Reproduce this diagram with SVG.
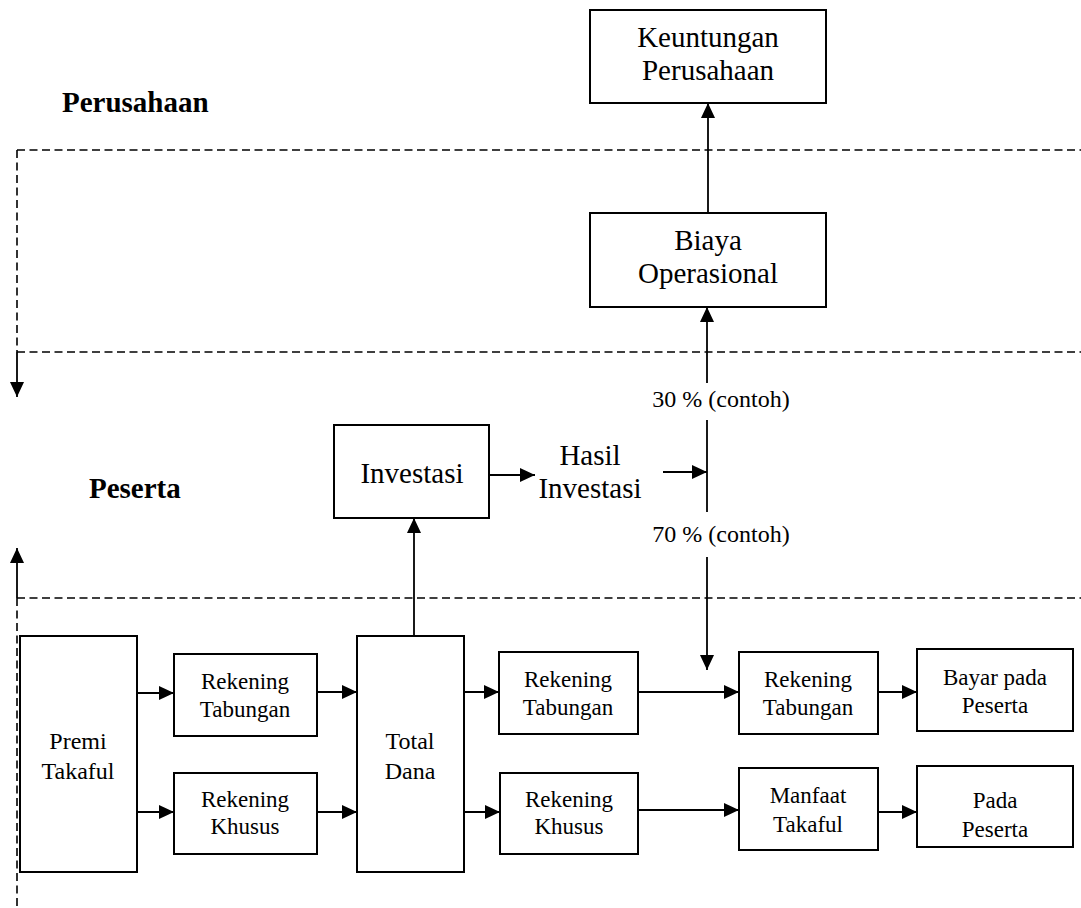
<svg xmlns="http://www.w3.org/2000/svg" width="1081" height="908" viewBox="0 0 1081 908">
<style>
.box{fill:#fff;stroke:#000;stroke-width:2}
.ln{fill:none;stroke:#000;stroke-width:1.8}
.dash{fill:none;stroke:#000;stroke-width:1.6;stroke-dasharray:8 4.5}
.t{font-family:"Liberation Serif","Times New Roman",serif;fill:#000;text-anchor:middle}
.s{font-size:23px}
.m{font-size:24px}
.l{font-size:29px}
.b{font-family:"Liberation Serif","Times New Roman",serif;font-weight:bold;font-size:29px;fill:#000}
</style>
<defs>
<marker id="ah" markerUnits="userSpaceOnUse" markerWidth="16" markerHeight="15" refX="15" refY="7" orient="auto">
<path d="M0,0 L15,7 L0,14 z" fill="#000"/>
</marker>
</defs>
<g id="regions">
<path class="dash" d="M17,150 H1081 M17,150 V352 M17,352 H1081 M17,598 H1081 M17,598 V908"/>
<text class="b" x="62" y="112">Perusahaan</text>
<text class="b" x="89" y="498">Peserta</text>
</g>
<g id="connectors">
<path class="ln" d="M17,352 V397" marker-end="url(#ah)"/>
<path class="ln" d="M17,598 V548" marker-end="url(#ah)"/>
<path class="ln" d="M708,213 V103" marker-end="url(#ah)"/>
<path class="ln" d="M707,383 V307" marker-end="url(#ah)"/>
<path class="ln" d="M707,420 V512"/>
<path class="ln" d="M663,472 H707" marker-end="url(#ah)"/>
<path class="ln" d="M707,557 V670" marker-end="url(#ah)"/>
<path class="ln" d="M489,475 H535" marker-end="url(#ah)"/>
<path class="ln" d="M414,636 V518" marker-end="url(#ah)"/>
<path class="ln" d="M137,693 H174" marker-end="url(#ah)"/>
<path class="ln" d="M317,692 H357" marker-end="url(#ah)"/>
<path class="ln" d="M464,692 H499" marker-end="url(#ah)"/>
<path class="ln" d="M638,692 H739" marker-end="url(#ah)"/>
<path class="ln" d="M878,692 H917" marker-end="url(#ah)"/>
<path class="ln" d="M137,812 H174" marker-end="url(#ah)"/>
<path class="ln" d="M317,812 H357" marker-end="url(#ah)"/>
<path class="ln" d="M464,812 H500" marker-end="url(#ah)"/>
<path class="ln" d="M638,810 H739" marker-end="url(#ah)"/>
<path class="ln" d="M878,812 H917" marker-end="url(#ah)"/>
</g>
<g id="keuntungan">
<rect class="box" x="590" y="10" width="236" height="93"/>
<text class="t l" x="708" y="47">Keuntungan</text>
<text class="t l" x="708" y="80">Perusahaan</text>
</g>
<g id="biaya">
<rect class="box" x="590" y="213" width="236" height="94"/>
<text class="t l" x="708" y="250">Biaya</text>
<text class="t l" x="708" y="283">Operasional</text>
</g>
<g id="pct30"><text class="t m" x="721" y="407">30 % (contoh)</text></g>
<g id="pct70"><text class="t m" x="721" y="542">70 % (contoh)</text></g>
<g id="investasi">
<rect class="box" x="334" y="425" width="155" height="93"/>
<text class="t l" x="412" y="483">Investasi</text>
</g>
<g id="hasil">
<text class="t l" x="590" y="465">Hasil</text>
<text class="t l" x="590" y="498">Investasi</text>
</g>
<g id="premi">
<rect class="box" x="20" y="636" width="117" height="236"/>
<text class="t m" x="78" y="749">Premi</text>
<text class="t m" x="78" y="779">Takaful</text>
</g>
<g id="rektab1">
<rect class="box" x="174" y="654" width="143" height="82"/>
<text class="t s" x="245" y="689">Rekening</text>
<text class="t s" x="245" y="717">Tabungan</text>
</g>
<g id="rekkhusus1">
<rect class="box" x="174" y="773" width="143" height="81"/>
<text class="t s" x="245" y="807">Rekening</text>
<text class="t s" x="245" y="834">Khusus</text>
</g>
<g id="totaldana">
<rect class="box" x="357" y="636" width="107" height="236"/>
<text class="t m" x="410" y="749">Total</text>
<text class="t m" x="410" y="779">Dana</text>
</g>
<g id="rektab2">
<rect class="box" x="499" y="652" width="139" height="82"/>
<text class="t s" x="568" y="687">Rekening</text>
<text class="t s" x="568" y="715">Tabungan</text>
</g>
<g id="rekkhusus2">
<rect class="box" x="500" y="773" width="138" height="81"/>
<text class="t s" x="569" y="807">Rekening</text>
<text class="t s" x="569" y="834">Khusus</text>
</g>
<g id="rektab3">
<rect class="box" x="739" y="652" width="139" height="82"/>
<text class="t s" x="808" y="687">Rekening</text>
<text class="t s" x="808" y="715">Tabungan</text>
</g>
<g id="manfaat">
<rect class="box" x="739" y="768" width="139" height="82"/>
<text class="t s" x="808" y="803">Manfaat</text>
<text class="t s" x="808" y="832">Takaful</text>
</g>
<g id="bayar">
<rect class="box" x="917" y="649" width="156" height="82"/>
<text class="t s" x="995" y="685">Bayar pada</text>
<text class="t s" x="995" y="713">Peserta</text>
</g>
<g id="pada">
<rect class="box" x="917" y="766" width="156" height="81"/>
<text class="t s" x="995" y="808">Pada</text>
<text class="t s" x="995" y="837">Peserta</text>
</g>
</svg>
